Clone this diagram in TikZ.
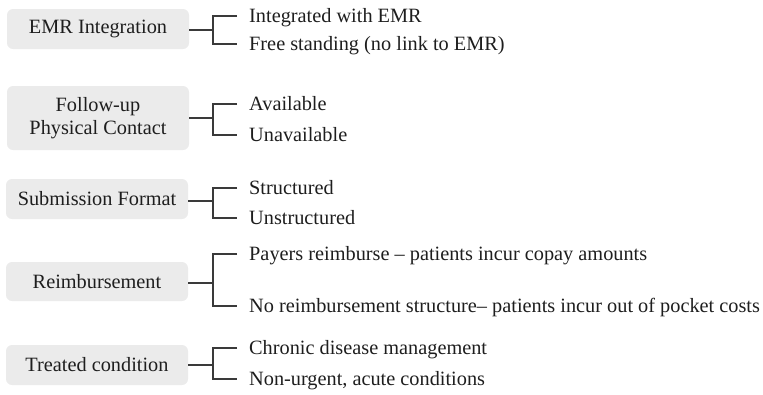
\documentclass[tikz,border=0pt]{standalone}
\usepackage{fontspec}
\setmainfont{Liberation Serif}
\definecolor{boxgray}{HTML}{EBEBEB}
\definecolor{linegray}{HTML}{3A3A3A}
\definecolor{txt}{HTML}{1E1E1E}
\begin{document}
\begin{tikzpicture}[x=1pt,y=-1pt,
  font=\fontsize{20.3}{23.5}\selectfont, text=txt,
  catbox/.style={fill=boxgray, rounded corners=6pt, minimum width=182pt, align=center, inner sep=0pt},
  leaf/.style={anchor=west, inner sep=0pt, text height=15pt, text depth=2pt},
  conn/.style={draw=linegray, line width=1.1pt}]
\useasboundingbox (0,0) rectangle (763,394);

% category boxes
\node[catbox, minimum height=40pt] (c1) at (98,29) {EMR Integration};
\node[catbox, minimum height=64pt] (c2) at (98,118) {Follow-up\\Physical Contact};
\node[catbox, minimum height=40pt] (c3) at (97,199) {Submission Format};
\node[catbox, minimum height=39pt] (c4) at (97,281.5) {Reimbursement};
\node[catbox, minimum height=40pt] (c5) at (97,365) {Treated condition};

% junction points
\coordinate (j1) at (213,30);
\coordinate (j2) at (213,118);
\coordinate (j3) at (213,201);
\coordinate (j4) at (213,283);
\coordinate (j5) at (213,365);

% leaves
\node[leaf] (t11) at (249,16) {Integrated with EMR};
\node[leaf] (t12) at (249,44) {Free standing (no link to EMR)};
\node[leaf] (t21) at (249,104) {Available};
\node[leaf] (t22) at (249,135) {Unavailable};
\node[leaf] (t31) at (249,188) {Structured};
\node[leaf] (t32) at (249,218) {Unstructured};
\node[leaf] (t41) at (249,254) {Payers reimburse – patients incur copay amounts};
\node[leaf] (t42) at (249,306) {No reimbursement structure– patients incur out of pocket costs};
\node[leaf] (t51) at (249,348) {Chronic disease management};
\node[leaf] (t52) at (249,379) {Non-urgent, acute conditions};

% connectors
\foreach \i in {1,...,5}{
  \draw[conn] (c\i.east |- j\i) -- (j\i);
  \draw[conn] ([xshift=-12pt]t\i1.west) -- (t\i1.west -| j\i) -- (t\i2.west -| j\i) -- ([xshift=-12pt]t\i2.west);
}
\end{tikzpicture}
\end{document}
